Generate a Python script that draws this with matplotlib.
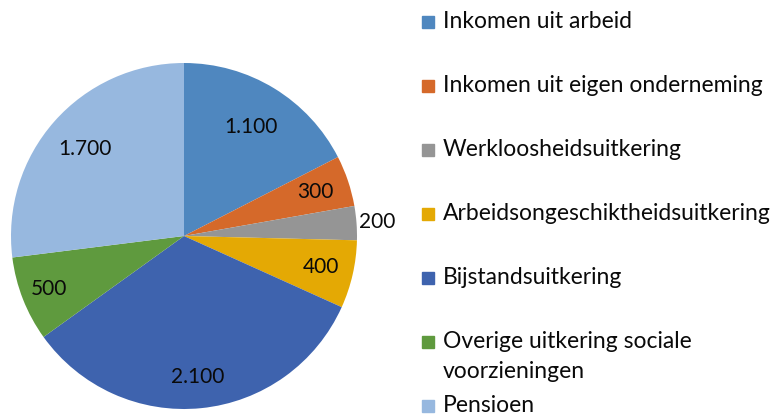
import matplotlib
matplotlib.use("Agg")
import matplotlib.pyplot as plt
import numpy as np
from matplotlib.patches import Rectangle

categories = ["Inkomen uit arbeid", "Inkomen uit eigen onderneming", "Werkloosheidsuitkering",
              "Arbeidsongeschiktheidsuitkering", "Bijstandsuitkering",
              "Overige uitkering sociale\nvoorzieningen", "Pensioen"]
values = [1100, 300, 200, 400, 2100, 500, 1700]
value_labels = ["1.100", "300", "200", "400", "2.100", "500", "1.700"]
colors = ["#4F87BF", "#D5692A", "#959595", "#E4A904", "#3E63AE", "#5F9A3E", "#97B8DF"]
label_dist = [0.74, 0.80, 1.12, 0.81, 0.82, 0.84, 0.76]
legend_y = [22, 86, 150, 214, 278, 342, 406]

W, H = 772, 417
fig = plt.figure(figsize=(W / 100, H / 100), dpi=100)
cx, cy, R = 184, 236, 173
ax = fig.add_axes([(cx - R) / W, (H - cy - R) / H, 2 * R / W, 2 * R / H])
wedges, _ = ax.pie(values, colors=colors, startangle=90, counterclock=False,
                   wedgeprops=dict(linewidth=0))
ax.set_xlim(-1, 1)
ax.set_ylim(-1, 1)
ax.set_aspect("equal")
ax.axis("off")

font = "Lato"
for w, lab, d in zip(wedges, value_labels, label_dist):
    ang = np.deg2rad((w.theta1 + w.theta2) / 2)
    ax.text(d * np.cos(ang), d * np.sin(ang), lab, ha="center", va="center",
            fontsize=15, family=font, color="#0a0a0a")

for cat, col, y in zip(categories, colors, legend_y):
    fig.patches.append(Rectangle((422 / W, 1 - (y + 6) / H), 12 / W, 12 / H,
                                 transform=fig.transFigure, color=col))
    lines = cat.split("\n")
    for i, ln in enumerate(lines):
        fig.text(443 / W, 1 - (y + 30 * i) / H, ln, ha="left", va="center",
                 fontsize=16.5, family=font, color="#0a0a0a")

fig.savefig("out.png", dpi=100)
